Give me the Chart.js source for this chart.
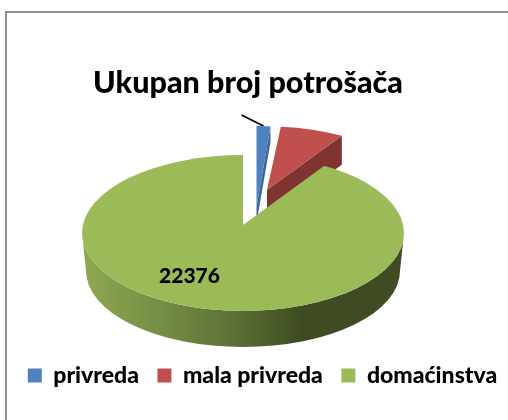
<!DOCTYPE html>
<html>
<head>
<meta charset="utf-8">
<style>
html,body{margin:0;padding:0;background:#fff}
#w{position:absolute;left:0;top:0;width:508px;height:420px}
</style>
<script src="https://cdn.jsdelivr.net/npm/chart.js@4"></script>
</head>
<body>
<div id="w"><canvas id="c" width="508" height="420"></canvas></div>
<script>
// data
const categories = ['privreda', 'mala privreda', 'domaćinstva'];
const values = [375, 1757, 22376];
const chartTitle = 'Ukupan broj potrošača';
const labelledIndex = 2;

// style
const topColors = ['#4f81bd', '#c0504d', '#9bbb59'];
const wallColors = ['#3b6697', '#7f3432'];
const FONT = 'Lato';
const BASE_R = 161;

// 3D layout of the exploded slices (apex + scale per slice)
const sliceApex = [[256.5, 207], [267, 190]];
const sliceScale = [[0.9, 0.503], [0.894, 0.394]];
const sliceDepth = [16, 29];
const ell = {cx: 243, cy: 233, rx: 161, ry: 78};
const ellBottom = {cx: 243, cy: 271, rx: 157, ry: 76};
const greenApex = [243, 225];
const greenUpper = [1.05, 0.465];
const greenLower = [1.2, 0.6];

function drawEl(ctx, el, apex, sc) {
  ctx.save();
  ctx.translate(apex[0], apex[1]);
  ctx.scale(sc[0], sc[1]);
  ctx.translate(-el.x, -el.y);
  el.draw(ctx);
  ctx.restore();
}

const pie3d = {
  id: 'pie3d',
  beforeDraw(chart) {
    const c = chart.ctx;
    c.save();
    c.fillStyle = '#fff';
    c.fillRect(0, 0, chart.width, chart.height);
    c.fillStyle = '#8f8f8f';
    c.fillRect(5, 11, chart.width - 5, 2);
    c.fillRect(5, 11, 2, chart.height - 11);
    c.restore();
  },
  beforeDatasetsDraw(chart) {
    const c = chart.ctx;
    const arcs = chart.getDatasetMeta(0).data;
    // leader line
    c.save();
    c.strokeStyle = '#000';
    c.lineWidth = 1.6;
    c.beginPath();
    c.moveTo(241.5, 115);
    c.lineTo(263.5, 126);
    c.stroke();
    c.restore();
    // exploded slices: cut wall then top face
    [0, 1].forEach(i => {
      const el = arcs[i];
      const [ax, ay] = sliceApex[i];
      const [sx, sy] = sliceScale[i];
      const r = el.outerRadius;
      const ex = ax + Math.cos(el.endAngle) * r * sx;
      const ey = ay + Math.sin(el.endAngle) * r * sy;
      const d = sliceDepth[i];
      c.save();
      c.fillStyle = wallColors[i];
      c.beginPath();
      c.moveTo(ax, ay);
      c.lineTo(ex, ey);
      c.lineTo(ex, ey + d);
      c.lineTo(ax, ay + d);
      c.closePath();
      c.fill();
      c.restore();
      drawEl(c, el, sliceApex[i], sliceScale[i]);
    });
    // green rim
    const g = c.createLinearGradient(ell.cx - ell.rx, 0, ell.cx + ell.rx, 0);
    g.addColorStop(0, '#8ea852');
    g.addColorStop(0.2, '#7a9347');
    g.addColorStop(0.45, '#5f7336');
    g.addColorStop(0.68, '#3f4c23');
    g.addColorStop(1, '#3f4c23');
    c.save();
    c.fillStyle = g;
    c.beginPath();
    c.ellipse(ell.cx, ell.cy, ell.rx, ell.ry, 0, 0, Math.PI);
    c.ellipse(ellBottom.cx, ellBottom.cy, ellBottom.rx, ellBottom.ry, 0, Math.PI, 0, true);
    c.closePath();
    c.fill();
    c.restore();
    // green top face: apex above ellipse centre, clipped to the ellipse
    const green = arcs[2];
    c.save();
    c.beginPath();
    c.ellipse(ell.cx, ell.cy, ell.rx, ell.ry, 0, 0, Math.PI * 2);
    c.clip();
    c.save();
    c.beginPath();
    c.rect(0, greenApex[1] - 0.5, chart.width, chart.height);
    c.clip();
    drawEl(c, green, greenApex, greenLower);
    c.restore();
    c.save();
    c.beginPath();
    c.rect(0, 0, chart.width, greenApex[1]);
    c.clip();
    drawEl(c, green, greenApex, greenUpper);
    c.restore();
    c.restore();
    // value label
    c.save();
    c.fillStyle = '#000';
    c.font = '900 21px ' + FONT;
    c.textAlign = 'center';
    c.textBaseline = 'middle';
    c.fillText(String(values[labelledIndex]), 189.5, 276);
    c.restore();
    return false;
  },
  afterLayout(chart) {
    // title sits left of the page centre, legend right of it
    chart.titleBlock.left -= 6;
    chart.titleBlock.right -= 6;
    chart.legend.left += 8.5;
    chart.legend.right += 8.5;
  }
};

new Chart(document.getElementById('c'), {
  type: 'pie',
  data: {
    labels: categories,
    datasets: [{data: values, backgroundColor: topColors, borderWidth: 0, radius: BASE_R}]
  },
  plugins: [pie3d],
  options: {
    responsive: false,
    animation: false,
    events: [],
    layout: {padding: {left: 0, right: 0, top: 0, bottom: 23}},
    plugins: {
      tooltip: {enabled: false},
      title: {
        display: true,
        text: chartTitle,
        color: '#000',
        font: {family: FONT, size: 30.5, weight: '900'},
        padding: {top: 65, bottom: 0}
      },
      legend: {
        display: true,
        position: 'bottom',
        labels: {
          color: '#000',
          font: {family: FONT, size: 23, weight: '900'},
          boxWidth: 14,
          boxHeight: 14,
          padding: 18.5
        }
      }
    }
  }
});
</script>
</body>
</html>
